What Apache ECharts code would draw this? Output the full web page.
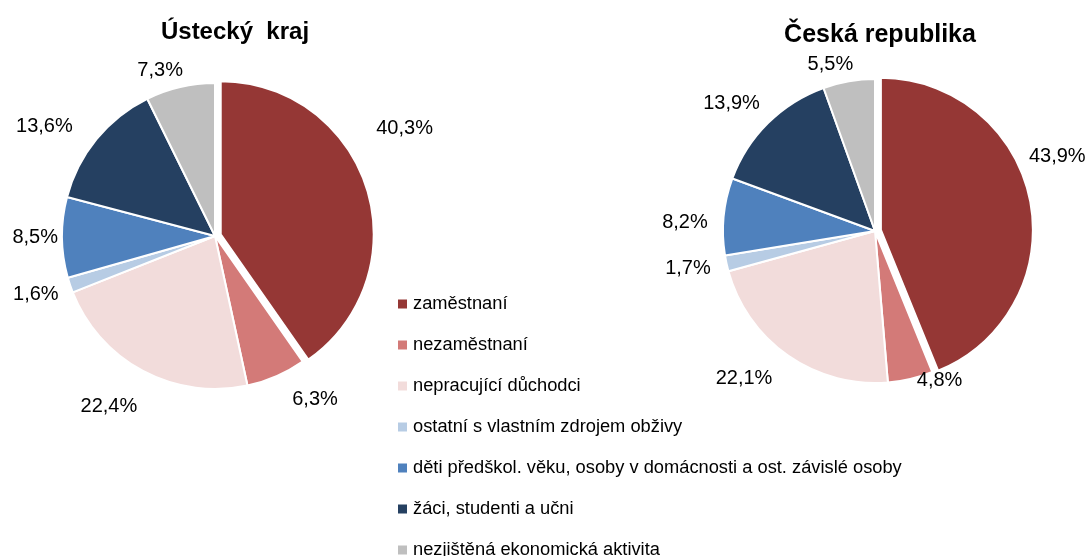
<!DOCTYPE html>
<html>
<head>
<meta charset="utf-8">
<title>Ekonomická aktivita</title>
<script src="https://cdn.jsdelivr.net/npm/echarts@6/dist/echarts.min.js"></script>
<style>
  html, body { margin: 0; padding: 0; background: #fff; }
  #chart { width: 1091px; height: 556px; }
</style>
</head>
<body>
<div id="chart"></div>
<script>
// kategorie ekonomické aktivity
var categories = [
  'zaměstnaní',
  'nezaměstnaní',
  'nepracující důchodci',
  'ostatní s vlastním zdrojem obživy',
  'děti předškol. věku, osoby v domácnosti a ost. závislé osoby',
  'žáci, studenti a učni',
  'nezjištěná ekonomická aktivita'
];
// podíly v %
var usteckyKraj = [40.3, 6.3, 22.4, 1.6, 8.5, 13.6, 7.3];
var ceskaRepublika = [43.9, 4.8, 22.1, 1.7, 8.2, 13.9, 5.5];
var colors = ['#953735', '#d37a78', '#f2dcdb', '#b7cce4', '#4f81bd', '#254061', '#bfbfbf'];

// posun popisků (jako v Excelu) [dx, dy]
var labelShift = [
  [[-5, -57], [7, 14], [4, 27], [3, 6], [11, 0], [-11, -6], [10, -7]],
  [[-16, -42], [-1, -8], [-5, 15], [-1, 3], [-1, 7], [4, -13], [11, -7]]
];

function toData(values) {
  return values.map(function (v, i) {
    return { name: categories[i], value: v, selected: i === 0 };
  });
}

function fmt(p) {
  return p.value.toFixed(1).replace('.', ',') + '%';
}

var font = 'Liberation Sans, Arial, sans-serif';

var pieBase = {
  type: 'pie',
  radius: 153,
  startAngle: 90,
  clockwise: true,
  selectedMode: 'single',
  selectedOffset: 6,
  avoidLabelOverlap: false,
  emphasis: { disabled: true },
  itemStyle: { borderColor: '#fff', borderWidth: 2 },
  label: {
    show: true,
    position: 'outside',
    formatter: fmt,
    color: '#000',
    fontSize: 20,
    fontFamily: font
  },
  labelLine: { show: false, length: 10, length2: 0 },
  labelLayout: function (params) {
    var s = labelShift[params.seriesIndex][params.dataIndex];
    return { dx: s[0], dy: s[1] };
  }
};

var legendBase = {
  orient: 'vertical',
  left: 396,
  padding: 0,
  icon: 'rect',
  itemWidth: 11,
  itemHeight: 11,
  itemGap: 23,
  selectedMode: false,
  textStyle: { fontSize: 18.3, color: '#000', fontFamily: font }
};

var chart = echarts.init(document.getElementById('chart'));
chart.setOption({
  color: colors,
  animation: false,
  title: [
    {
      text: 'Ústecký  kraj',
      left: 230,
      top: 15,
      textAlign: 'center',
      textStyle: { fontSize: 24, fontWeight: 'bold', color: '#000', fontFamily: font }
    },
    {
      text: 'Česká republika',
      left: 875,
      top: 18,
      textAlign: 'center',
      textStyle: { fontSize: 25, fontWeight: 'bold', color: '#000', fontFamily: font }
    }
  ],
  // legenda je rozdělena, aby se poslední položka nezalomila do dalšího sloupce
  legend: [
    Object.assign({}, legendBase, { top: 295, data: categories.slice(0, 6) }),
    Object.assign({}, legendBase, { top: 541, data: categories.slice(6) })
  ],
  series: [
    Object.assign({}, pieBase, { name: 'Ústecký kraj', center: [215, 236], data: toData(usteckyKraj) }),
    Object.assign({}, pieBase, { name: 'Česká republika', center: [875, 231], radius: 152, data: toData(ceskaRepublika) })
  ]
});
</script>
</body>
</html>
